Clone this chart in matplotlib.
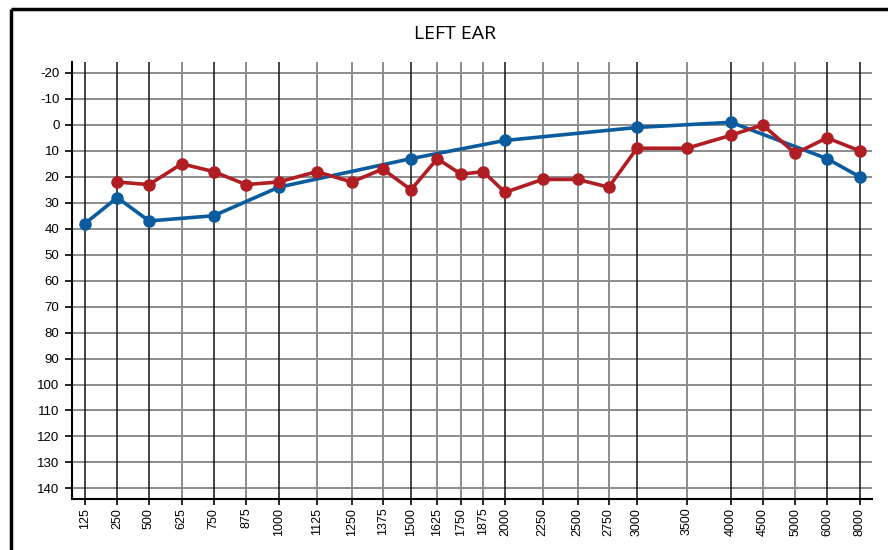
import matplotlib.pyplot as plt
from matplotlib.lines import Line2D

# frequency labels and where they sit on the chart's own (uneven) axis
freqs = ['125', '250', '500', '625', '750', '875', '1000', '1125', '1250', '1375',
         '1500', '1625', '1750', '1875', '2000', '2250', '2500', '2750', '3000',
         '3500', '4000', '4500', '5000', '6000', '8000']
freq_pos = [85, 117.3, 149, 181.7, 213.7, 246, 278.7, 316.7, 351.7, 382.7,
            411, 437.3, 461, 483.3, 505, 542.7, 577.5, 608.7, 637,
            687, 731, 762.7, 795.3, 827, 859.7]
major = ['125', '250', '500', '750', '1000', '1500', '2000', '3000', '4000', '6000', '8000']

# blue series
blue_freqs = ['125', '250', '500', '750', '1000', '1500', '2000', '3000', '4000', '6000', '8000']
blue_vals = [38, 28, 37, 35, 24, 13, 6, 1, -1, 13, 20]

# red series
red_freqs = ['250', '500', '625', '750', '875', '1000', '1125', '1250', '1375', '1500',
             '1625', '1750', '1875', '2000', '2250', '2500', '2750', '3000', '3500',
             '4000', '4500', '5000', '6000', '8000']
red_vals = [22, 23, 15, 18, 23, 22, 18, 22, 17, 25, 13, 19, 18, 26, 21, 21, 24,
            9, 9, 4, 0, 11, 5, 10]

yticks = list(range(-20, 141, 10))

pos = dict(zip(freqs, freq_pos))

fig = plt.figure(figsize=(8.88, 5.5), dpi=100)
ax = fig.add_axes([72 / 888, 1 - 499.3 / 550, 800 / 888, (499.3 - 62.3) / 550])

# grid
for y in yticks:
    ax.axhline(y, color='#8c8c8c', lw=1.4, zorder=1)
for f in freqs:
    if f in major:
        ax.axvline(pos[f], color='#111111', lw=1.1, zorder=1)
    else:
        ax.axvline(pos[f], color='#8c8c8c', lw=1.4, zorder=1)

ax.plot([pos[f] for f in blue_freqs], blue_vals, color='#0b5c9e', lw=2.6,
        marker='o', ms=8, zorder=3)
ax.plot([pos[f] for f in red_freqs], red_vals, color='#b01e23', lw=2.6,
        marker='o', ms=8, zorder=4)

ax.set_xlim(72, 872)
ax.set_ylim(144.2, -24.1)
ax.set_xticks(freq_pos)
ax.set_xticklabels(freqs, rotation=90, fontsize=9, family='Liberation Sans')
ax.set_yticks(yticks)
ax.set_yticklabels([str(v) for v in yticks], fontsize=9.5, family='Liberation Sans')
ax.tick_params(axis='y', length=5, width=1.2, pad=4)
ax.tick_params(axis='x', length=4, width=1.2, pad=2)
for s in ['top', 'right']:
    ax.spines[s].set_visible(False)
for s in ['left', 'bottom']:
    ax.spines[s].set_linewidth(1.5)

fig.text(455 / 888, 1 - 34 / 550, 'LEFT EAR', ha='center', va='center',
         fontsize=14, family='Open Sans')

# outer frame (top and left only visible)
fig.add_artist(Line2D([11 / 888, 1.01], [1 - 9 / 550, 1 - 9 / 550], color='black', lw=2.5,
                      solid_capstyle='butt', transform=fig.transFigure))
fig.add_artist(Line2D([11 / 888, 11 / 888], [1 - 9 / 550, -0.01], color='black', lw=2.5,
                      solid_capstyle='butt', transform=fig.transFigure))

fig.savefig('out.png', dpi=100)
